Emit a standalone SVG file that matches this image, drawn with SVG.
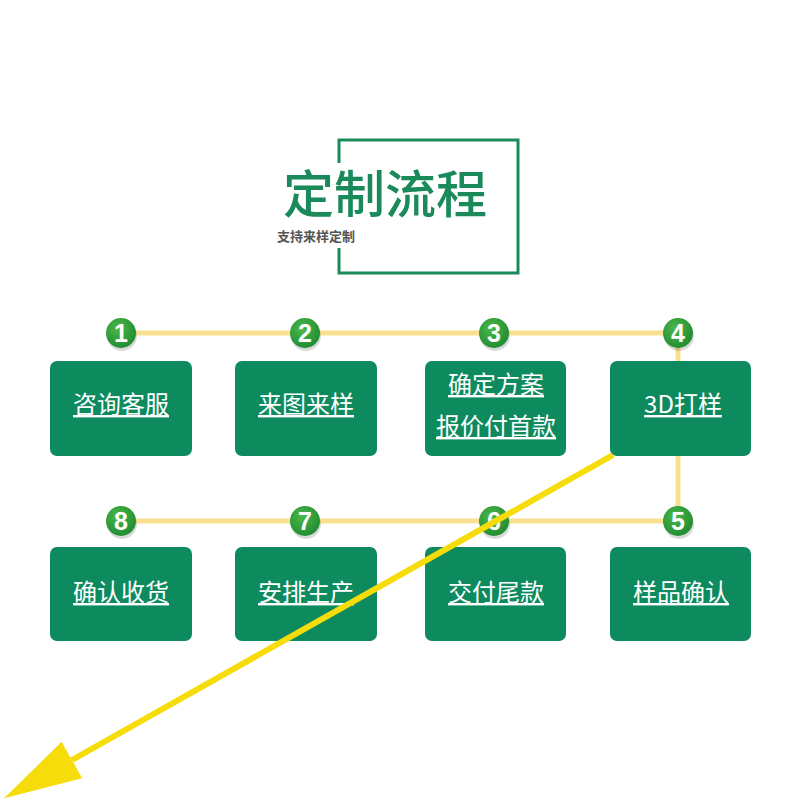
<svg xmlns="http://www.w3.org/2000/svg" width="800" height="800" viewBox="0 0 800 800">
<defs>
<radialGradient id="cg" cx="0.4" cy="0.35" r="0.7">
<stop offset="0" stop-color="#4cb84a"/>
<stop offset="1" stop-color="#1f8a30"/>
</radialGradient>
<marker id="ah" markerUnits="userSpaceOnUse" markerWidth="78" markerHeight="42" viewBox="0 0 78 42" refX="0" refY="21" orient="auto">
<path d="M0,0 L78,21 L0,42 z" fill="#f5dc0a"/>
</marker>
<style>
.box{fill:#0d8b5f;}
.lbl{font-family:"Noto Sans CJK SC","Liberation Sans",sans-serif;font-size:24px;fill:#ffffff;text-anchor:middle;text-decoration:underline;}
.circ{fill:url(#cg);}
.shd{fill:#000000;opacity:0.15;}
.num{font-family:"Liberation Sans",sans-serif;font-weight:bold;font-size:25px;fill:#ffffff;text-anchor:middle;}
.link{stroke:#f8e08e;stroke-width:5;fill:none;}
</style>
</defs>
<rect width="800" height="800" fill="#ffffff"/>

<g id="title">
<path d="M339,163 L339,140 L518,140 L518,273 L339,273 L339,248" fill="none" stroke="#1a8a5a" stroke-width="3"/>
<text x="283" y="213" font-family="'Noto Sans CJK SC',sans-serif" font-weight="500" font-size="51" fill="#1a8a5a">定制流程</text>
<text x="277" y="241" font-family="'Noto Sans CJK SC',sans-serif" font-weight="700" font-size="13" fill="#555555">支持来样定制</text>
</g>

<g id="connectors">
<path class="link" d="M121,333 L678,333 L678,521 L121,521"/>
</g>

<g id="step1">
<rect class="box" x="50" y="361" width="142" height="95" rx="7"/>
<text class="lbl" x="121" y="413">咨询客服</text>
<circle class="shd" cx="122" cy="336" r="15"/>
<circle class="circ" cx="121" cy="333" r="15"/>
<text class="num" x="121" y="342">1</text>
</g>
<g id="step2">
<rect class="box" x="235" y="361" width="142" height="95" rx="7"/>
<text class="lbl" x="306" y="413">来图来样</text>
<circle class="shd" cx="306" cy="336" r="15"/>
<circle class="circ" cx="305" cy="333" r="15"/>
<text class="num" x="305" y="342">2</text>
</g>
<g id="step3">
<rect class="box" x="425" y="361" width="141" height="95" rx="7"/>
<text class="lbl" x="496" y="393">确定方案</text>
<text class="lbl" x="496" y="435">报价付首款</text>
<circle class="shd" cx="495" cy="336" r="15"/>
<circle class="circ" cx="494" cy="333" r="15"/>
<text class="num" x="494" y="342">3</text>
</g>
<g id="step4">
<rect class="box" x="610" y="361" width="141" height="95" rx="7"/>
<text class="lbl" x="683" y="413">3D打样</text>
<circle class="shd" cx="679" cy="336" r="15"/>
<circle class="circ" cx="678" cy="333" r="15"/>
<text class="num" x="678" y="342">4</text>
</g>
<g id="step5">
<rect class="box" x="610" y="547" width="141" height="94" rx="7"/>
<text class="lbl" x="681" y="601">样品确认</text>
<circle class="shd" cx="679" cy="524" r="15"/>
<circle class="circ" cx="678" cy="521" r="15"/>
<text class="num" x="678" y="530">5</text>
</g>
<g id="step6">
<rect class="box" x="425" y="547" width="141" height="94" rx="7"/>
<text class="lbl" x="496" y="601">交付尾款</text>
<circle class="shd" cx="495" cy="524" r="15"/>
<circle class="circ" cx="494" cy="521" r="15"/>
<text class="num" x="494" y="530">6</text>
</g>
<g id="step7">
<rect class="box" x="235" y="547" width="142" height="94" rx="7"/>
<text class="lbl" x="306" y="601">安排生产</text>
<circle class="shd" cx="306" cy="524" r="15"/>
<circle class="circ" cx="305" cy="521" r="15"/>
<text class="num" x="305" y="530">7</text>
</g>
<g id="step8">
<rect class="box" x="50" y="547" width="142" height="94" rx="7"/>
<text class="lbl" x="121" y="601">确认收货</text>
<circle class="shd" cx="122" cy="524" r="15"/>
<circle class="circ" cx="121" cy="521" r="15"/>
<text class="num" x="121" y="530">8</text>
</g>

<g id="arrow">
<line x1="613" y1="455" x2="72" y2="760" stroke="#f5dc0a" stroke-width="6" marker-end="url(#ah)"/>
</g>
</svg>
